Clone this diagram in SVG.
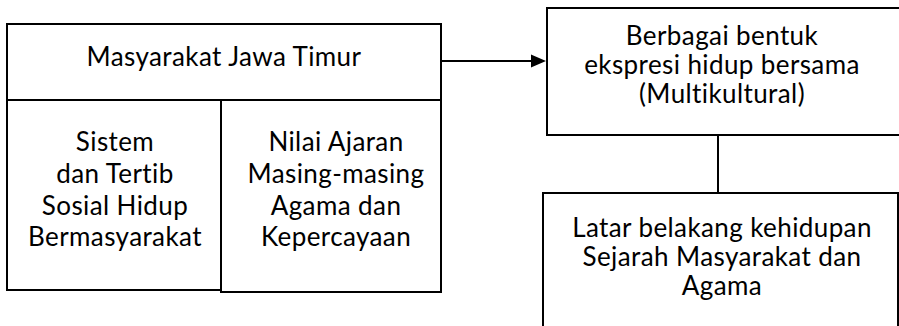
<svg xmlns="http://www.w3.org/2000/svg" width="899" height="326" viewBox="0 0 899 326">
<style>
.box{fill:#fff;stroke:#000;stroke-width:2}
.t{font-family:Lato,"Liberation Sans",sans-serif;font-size:26px;letter-spacing:0.4px;font-variant-ligatures:none;fill:#000;text-anchor:middle}
.c{stroke:#000;stroke-width:2;fill:none}
</style>
<rect width="899" height="326" fill="#fff"/>
<g id="connectors">
<line class="c" x1="441" y1="61" x2="533" y2="61"/>
<polygon points="531,54.5 546,61 531,67.5" fill="#000"/>
<line class="c" x1="718" y1="135" x2="718" y2="193"/>
</g>
<g id="node-masyarakat">
<rect class="box" x="7" y="24" width="434" height="76"/>
<text class="t" x="224" y="66">Masyarakat Jawa Timur</text>
</g>
<g id="node-sistem">
<rect class="box" x="7" y="100" width="214" height="190"/>
<text class="t"><tspan x="115" y="151">Sistem</tspan><tspan x="115" y="183">dan Tertib</tspan><tspan x="115" y="215">Sosial Hidup</tspan><tspan x="115" y="246">Bermasyarakat</tspan></text>
</g>
<g id="node-nilai">
<rect class="box" x="221" y="100" width="220" height="192"/>
<text class="t"><tspan x="336" y="151">Nilai Ajaran</tspan><tspan x="336" y="183">Masing-masing</tspan><tspan x="336" y="215">Agama dan</tspan><tspan x="336" y="246">Kepercayaan</tspan></text>
</g>
<g id="node-ekspresi">
<rect class="box" x="547" y="8" width="360" height="127"/>
<text class="t"><tspan x="722" y="45">Berbagai bentuk</tspan><tspan x="722" y="74">ekspresi hidup bersama</tspan><tspan x="722" y="103">(Multikultural)</tspan></text>
</g>
<g id="node-latar">
<rect class="box" x="543" y="193" width="355" height="140"/>
<text class="t"><tspan x="722" y="237">Latar belakang kehidupan</tspan><tspan x="722" y="266">Sejarah Masyarakat dan</tspan><tspan x="722" y="295">Agama</tspan></text>
</g>
</svg>
